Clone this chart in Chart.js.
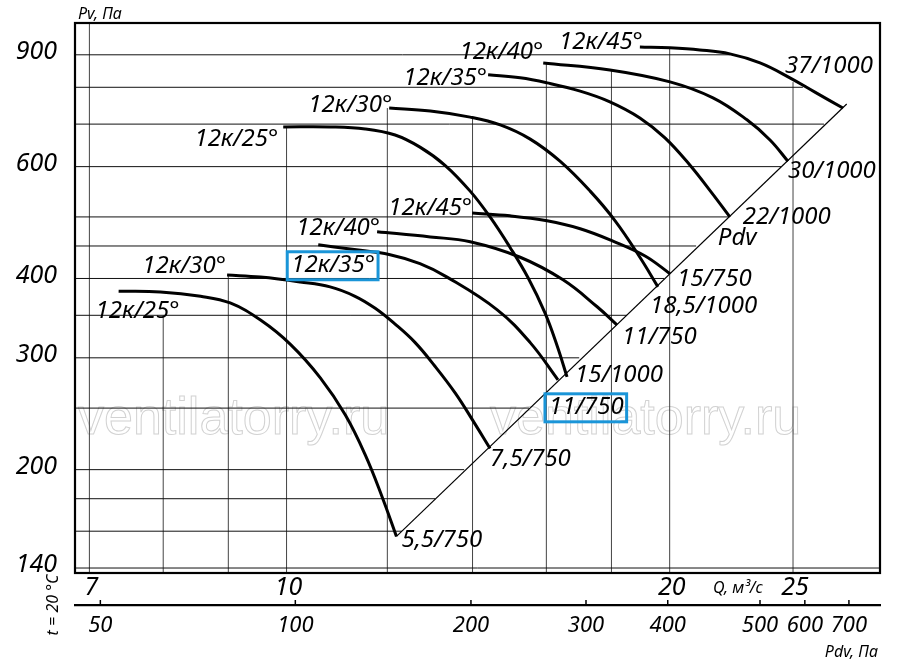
<!DOCTYPE html>
<html>
<head>
<meta charset="utf-8">
<script src="https://cdn.jsdelivr.net/npm/chart.js@4.4.1/dist/chart.umd.min.js"></script>
<style>
  html, body { margin: 0; padding: 0; background: #fff; }
  #wrap { width: 900px; height: 669px; }
</style>
</head>
<body>
<div id="wrap"><canvas id="fanChart"></canvas></div>
<script>
// axis limits
const qMin = 6.82, qMax = 29.26;   // Q, m3/s
const pMin = 137.5, pMax = 1010;   // Pv, Pa

const qTicks = [7, 10, 20, 25];
const pvTicks = [140, 200, 300, 400, 600, 900];
const pdvTicks = [50, 100, 200, 300, 400, 500, 600, 700];
const pdvTickQ = [7.14, 10.16, 13.96, 17.19, 19.93, 23.55, 25.54, 27.66];

// grid as drafted: verticals stop under the curves, horizontals at the Pdv line
const qGrid = [7, 8, 9, 10, 12, 14, 16, 18, 20, 25];
const qGridTop = [1010, 350, 405, 693, 742, 715, 874, 852, 922, 815];
const pGrid = [900, 800, 700, 600, 500, 450, 400, 350, 300, 250, 200, 180, 160, 140];
const pGridEnd = [22.3, 25.45, 26.44, 24.46, 22.27, 20.98, 19.8, 18.51, 16.98, 15.51, 13.79, 13.09, 12.32, 29.26];

// Pdv line
const qPdv = [12.2, 27.55];
const pPdv = [157, 753];

const angles = ['12к/25°', '12к/30°', '12к/35°', '12к/40°', '12к/45°'];
const motors750 = ['5,5/750', '7,5/750', '11/750', '11/750', '15/750'];
const motors1000 = ['15/1000', '18,5/1000', '22/1000', '30/1000', '37/1000'];

// 750 rpm curves
const q750a25 = [7.38, 7.96, 8.56, 9.03, 9.54, 10.07, 10.63, 11.12, 11.53, 11.89, 12.2];
const p750a25 = [382, 381, 375, 366, 344, 315, 279, 244, 211, 181, 157];
const q750a30 = [8.98, 9.54, 10.25, 10.82, 11.32, 11.74, 12.17, 12.62, 13.08, 13.57, 13.99, 14.45];
const p750a30 = [405, 402, 395, 388, 375, 359, 339, 317, 291, 264, 240, 216];
const q750a35 = [10.59, 11.22, 12.06, 12.73, 13.37, 14.64, 15.54, 16.34];
const p750a35 = [452, 445, 436, 422, 402, 357, 317, 277];
const q750a40 = [11.78, 12.97, 13.94, 15.26, 16.49, 17.54, 18.18];
const p750a40 = [474, 465, 457, 432, 398, 361, 338];
const q750a45 = [13.99, 14.98, 16.02, 17.01, 18.05, 19.13, 20.01];
const p750a45 = [507, 502, 493, 479, 458, 434, 407];

// 1000 rpm curves
const q1000a25 = [9.94, 10.82, 11.53, 12.17, 12.73, 13.32, 13.94, 14.45, 14.98, 15.48, 15.96, 16.31, 16.61];
const p1000a25 = [693, 693, 688, 673, 644, 603, 549, 500, 448, 401, 353, 314, 280];
const q1000a30 = [12.04, 12.97, 13.94, 14.72, 15.54, 16.4, 17.32, 18.12, 18.95, 19.58];
const p1000a30 = [742, 734, 718, 698, 663, 612, 549, 493, 432, 388];
const q1000a35 = [14.4, 15.26, 16.02, 17.01, 17.95, 18.95, 19.83, 20.75, 21.59, 22.3];
const p1000a35 = [837, 828, 813, 789, 759, 716, 666, 603, 545, 500];
const q1000a40 = [15.91, 17.95, 20.01, 21.63, 23.0, 23.98, 24.77];
const p1000a40 = [874, 852, 816, 770, 711, 661, 612];
const q1000a45 = [18.95, 20.01, 21.12, 22.3, 23.55, 24.86, 26.01, 27.36];
const p1000a45 = [926, 923, 916, 903, 874, 828, 786, 742];

const curves = [
  [q750a25, p750a25, angles[0], motors750[0]],
  [q750a30, p750a30, angles[1], motors750[1]],
  [q750a35, p750a35, angles[2], motors750[2]],
  [q750a40, p750a40, angles[3], motors750[3]],
  [q750a45, p750a45, angles[4], motors750[4]],
  [q1000a25, p1000a25, angles[0], motors1000[0]],
  [q1000a30, p1000a30, angles[1], motors1000[1]],
  [q1000a35, p1000a35, angles[2], motors1000[2]],
  [q1000a40, p1000a40, angles[3], motors1000[3]],
  [q1000a45, p1000a45, angles[4], motors1000[4]]
];

// label placement (pixel offsets from curve start / end)
const nameAt = [[-23, 20, 'left'], [-1, -9, 'right'], [-27, 20, 'left'], [3, -3, 'right'], [0, -5, 'right'],
                [-5, 12, 'right'], [3, -3, 'right'], [-1, 3, 'right'], [0, -11, 'right'], [3, -5, 'right']];
const motorAt = [[5, 4, 'left'], [0, 11, 'left'], [-9, 27, 'left'], [5, 12, 'left'], [7, 5, 'left'],
                 [8, -2, 'left'], [-8, 19, 'left'], [13, 0, 'left'], [0, 10, 'left'], [30, -42, 'right']];
const boxedCurve = 2;

const FONT = '"Noto Sans", sans-serif';

function pts(q, p) { return q.map((v, i) => ({x: v, y: p[i]})); }

const hLines = [];
pGrid.forEach((p, i) => { hLines.push({x: qMin, y: p}, {x: pGridEnd[i], y: p}, {x: pGridEnd[i], y: null}); });
const vLines = [];
qGrid.forEach((q, i) => { vLines.push({x: q, y: pMin}, {x: q, y: qGridTop[i]}, {x: q, y: null}); });

const datasets = curves.map(c => ({
  data: pts(c[0], c[1]),
  borderColor: '#000', borderWidth: 3, pointRadius: 0,
  tension: 0.4, borderCapStyle: 'butt'
}));
datasets.push({data: pts(qPdv, pPdv), borderColor: '#000', borderWidth: 1.2, pointRadius: 0});
datasets.push({data: hLines, borderColor: '#111', borderWidth: 1, pointRadius: 0, spanGaps: false});
datasets.push({data: vLines, borderColor: '#444', borderWidth: 1, pointRadius: 0, spanGaps: false});

function label(ctx, txt, x, y, align, px, boxed) {
  ctx.font = 'italic ' + px + 'px ' + FONT;
  ctx.textAlign = align;
  ctx.textBaseline = 'middle';
  ctx.fillStyle = '#000';
  ctx.fillText(txt, x, y);
  if (boxed) {
    const w = ctx.measureText(txt).width;
    const x0 = align === 'right' ? x - w : x;
    ctx.strokeStyle = '#1a95d8';
    ctx.lineWidth = 3;
    ctx.strokeRect(x0 - 4, y - 13, w + 7, 28);
  }
}

const annotate = {
  id: 'annotate',
  beforeDatasetsDraw(chart) {
    const ctx = chart.ctx, a = chart.chartArea;
    ctx.save();
    ctx.font = '52px "Liberation Sans", sans-serif';
    ctx.strokeStyle = '#d2d2d2';
    ctx.lineWidth = 1;
    ctx.textAlign = 'left';
    ctx.textBaseline = 'alphabetic';
    ctx.strokeText('ventilatorry.ru', a.left + 3, 434);
    ctx.strokeText('ventilatorry.ru', a.left + 415, 434);
    ctx.restore();
  },
  afterDraw(chart) {
    const ctx = chart.ctx, a = chart.chartArea;
    const xs = chart.scales.x, ys = chart.scales.y, x2 = chart.scales.x2;
    ctx.save();
    // frame
    ctx.strokeStyle = '#000';
    ctx.lineWidth = 2.2;
    ctx.strokeRect(a.left, a.top, a.right - a.left, a.bottom - a.top);
    // Pdv scale ticks pointing up
    ctx.lineWidth = 1.5;
    x2.ticks.forEach(t => {
      const px = x2.getPixelForValue(t.value);
      ctx.beginPath();
      ctx.moveTo(px, x2.top - 5);
      ctx.lineTo(px, x2.top);
      ctx.stroke();
    });
    // curve labels
    curves.forEach((c, i) => {
      const q = c[0], p = c[1], n = q.length - 1;
      const sx = xs.getPixelForValue(q[0]), sy = ys.getPixelForValue(p[0]);
      const ex = xs.getPixelForValue(q[n]), ey = ys.getPixelForValue(p[n]);
      label(ctx, c[2], sx + nameAt[i][0], sy + nameAt[i][1], nameAt[i][2], 24, i === boxedCurve);
      label(ctx, c[3], ex + motorAt[i][0], ey + motorAt[i][1], motorAt[i][2], 24, i === boxedCurve);
    });
    const px35 = xs.getPixelForValue(q1000a35[q1000a35.length - 1]);
    const py35 = ys.getPixelForValue(p1000a35[p1000a35.length - 1]);
    label(ctx, 'Pdv', px35 - 12, py35 + 21, 'left', 24, false);
    // axis titles
    label(ctx, 'Pv, Па', a.left + 3, 14, 'left', 16, false);
    label(ctx, 'Q, м³/с', 738, 588, 'center', 16, false);
    label(ctx, 'Pdv, Па', 878, 652, 'right', 16, false);
    ctx.translate(53, 605);
    ctx.rotate(-Math.PI / 2);
    label(ctx, 't = 20 °C', 0, 0, 'center', 16, false);
    ctx.restore();
  }
};

new Chart(document.getElementById('fanChart'), {
  type: 'line',
  data: {datasets: datasets},
  options: {
    responsive: true,
    maintainAspectRatio: false,
    animation: false,
    layout: {padding: {top: 23, right: 20, left: 0, bottom: 24}},
    plugins: {legend: {display: false}, tooltip: {enabled: false}},
    scales: {
      x: {
        type: 'logarithmic', position: 'bottom', min: qMin, max: qMax,
        afterBuildTicks: s => { s.ticks = qTicks.map(v => ({value: v})); },
        afterFit: s => { s.height = 32; s.paddingLeft = 0; s.paddingRight = 0; },
        grid: {display: false, drawTicks: false},
        border: {display: false},
        ticks: {
          callback: v => String(v), autoSkip: false, maxRotation: 0, minRotation: 0,
          padding: 0, labelOffset: 2, color: '#000',
          font: {family: FONT, size: 25, style: 'italic'}
        }
      },
      x2: {
        type: 'logarithmic', position: 'bottom', min: qMin, max: qMax,
        afterBuildTicks: s => { s.ticks = pdvTickQ.map(v => ({value: v})); },
        afterFit: s => { s.height = 40; s.paddingLeft = 0; s.paddingRight = 0; },
        grid: {display: false, drawTicks: false},
        border: {display: true, color: '#000', width: 2.2},
        ticks: {
          callback: (v, i) => String(pdvTicks[i]), autoSkip: false, maxRotation: 0, minRotation: 0,
          padding: 8, color: '#000',
          font: {family: FONT, size: 22, style: 'italic'}
        }
      },
      y: {
        type: 'logarithmic', position: 'left', min: pMin, max: pMax,
        afterBuildTicks: s => { s.ticks = pvTicks.map(v => ({value: v})); },
        afterFit: s => { s.width = 75; s.paddingTop = 0; s.paddingBottom = 0; },
        grid: {display: false, drawTicks: false},
        border: {display: false},
        ticks: {
          callback: v => String(v), autoSkip: false, padding: 18, labelOffset: -3, color: '#000',
          font: {family: FONT, size: 25, style: 'italic'}
        }
      }
    }
  },
  plugins: [annotate]
});
</script>
</body>
</html>
